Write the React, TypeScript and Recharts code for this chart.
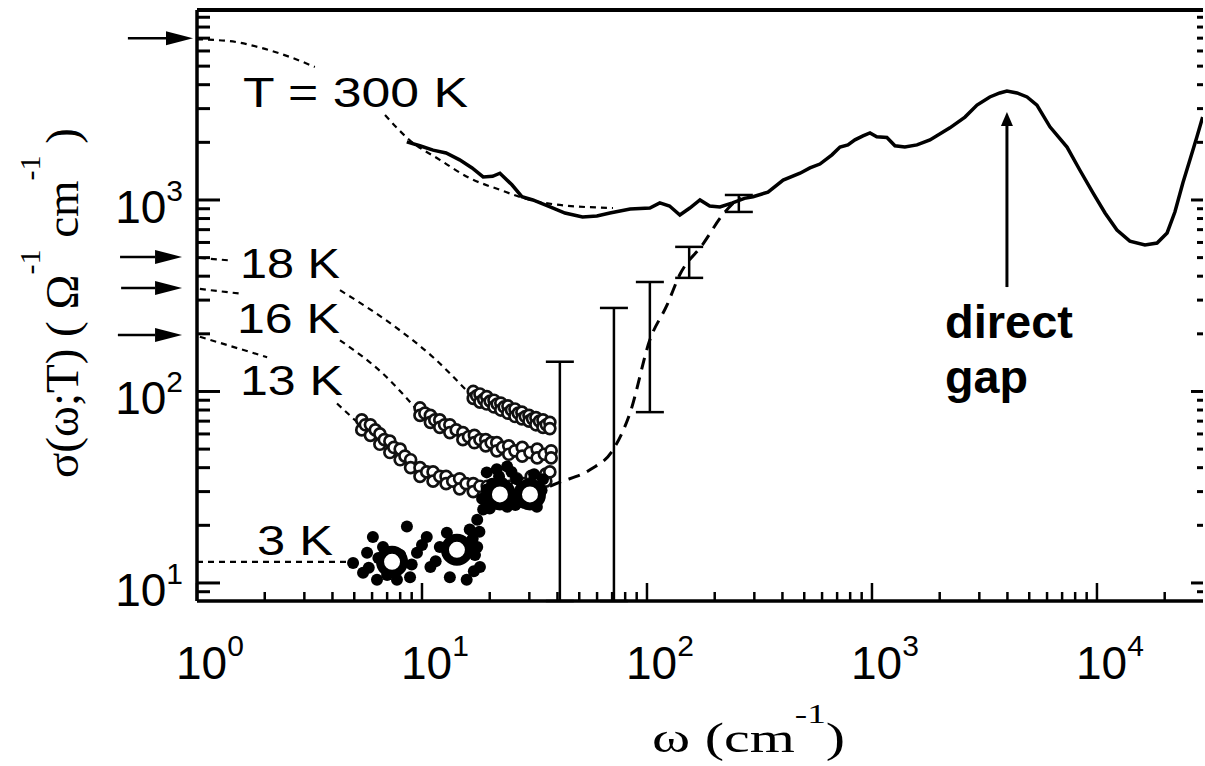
import React from 'react';
import {
  ComposedChart, Line, Scatter, XAxis, YAxis, ErrorBar, ReferenceLine, Customized,
} from 'recharts';

const SANS = '"Liberation Sans", Arial, Helvetica, sans-serif';
const SERIF = '"Liberation Serif", "Times New Roman", serif';

const X_DOMAIN: [number, number] = [1, 29600];
const Y_DOMAIN: [number, number] = [8.05, 9820];

// tick labels (decades) and minor factors
const xDecades = [1, 10, 100, 1000, 10000];
const yDecades = [1, 10, 100, 1000];
const minorFactors = [1, 2, 3, 4, 5, 6, 7, 8, 9];

// T = 300 K measured conductivity (solid line)
const w300 = [8.56, 9.78, 11.2, 12.8, 14.7, 16.7, 18.7, 20.6, 22.2, 25.1, 27.8, 31.1, 37.1, 43.2, 51.7, 59.9, 68.4, 84.2, 103, 114, 126, 140, 155, 172, 190, 211, 240, 271, 296, 345, 403, 479, 530, 587, 664, 721, 782, 840, 912, 980, 1050, 1165, 1265, 1400, 1585, 1810, 2220, 2590, 2930, 3340, 3700, 3980, 4410, 4890, 5410, 6180, 7360, 8400, 9600, 10860, 12270, 14000, 16340, 18500, 20500, 22200, 24100, 25900, 27800, 29500];
const s300 = [2010, 1920, 1820, 1760, 1620, 1470, 1320, 1330, 1380, 1200, 1040, 1000, 920, 855, 815, 825, 855, 897, 908, 965, 930, 835, 908, 1000, 930, 920, 965, 1020, 1040, 1100, 1270, 1380, 1470, 1540, 1720, 1890, 1940, 2060, 2160, 2240, 2140, 2120, 1920, 1890, 1940, 2060, 2380, 2710, 3130, 3450, 3620, 3710, 3620, 3450, 3130, 2410, 1890, 1430, 1090, 855, 697, 610, 582, 596, 673, 865, 1230, 1620, 2130, 2710];

// dashed extrapolations (null = hidden behind the label)
const w300d = [1, 1.4, 1.91, 2.59, 3.34, 4.5, 6.85, 8.83, 12.0, 16.3, 22.2, 30.2, 41, 70.6];
const s300d = [6900, 6750, 6250, 5580, 4950, null, 2780, 2050, 1620, 1300, 1130, 1000, 942, 908];
const w18d = [1.03, 1.44, 2.5, 4.32, 8, 11.2, 15.8];
const s18d = [498, 482, null, 338, 208, 151, 101];
const w16d = [1.03, 1.6, 2.5, 4.32, 6.7, 9.8];
const s16d = [343, 323, null, 185, 124, 77];
const w13d = [1.03, 2.05, 3, 4.19, 5.47];
const s13d = [193, 151, null, 86.5, 64.8];
const w3d = [1, 4.9];
const s3d = [12.9, 12.9];

// long-dashed rise of the 3 K curve towards 300 K
const wRise = [37, 41, 55.8, 70.6, 84, 103, 123, 140, 177, 218, 259];
const sRise = [32, 33.6, 39, 49.5, 77, 186, 284, 408, 587, 843, 1040];

// open-circle data
const w18 = [16.9, 16.9, 17.5, 18.1, 18.1, 18.8, 19.4, 19.4, 20.1, 20.9, 20.9, 21.6, 22.4, 22.4, 23.2, 24.1, 24.1, 25.0, 25.9, 25.9, 26.8, 27.8, 27.8, 28.8, 29.9, 29.9, 31.0, 32.1, 32.1, 33.3, 34.5, 34.5, 35.7, 37.0, 37.0];
const s18 = [100, 92, 95, 97, 88, 91, 94, 86, 89, 90, 83, 86, 87, 80, 83, 84, 77, 80, 81, 74, 77, 78, 72, 74, 75, 70, 72, 73, 67, 70, 71, 65, 67, 69, 64];
const w16 = [9.8, 9.8, 10.3, 10.9, 10.9, 11.4, 12.0, 12.0, 12.6, 13.3, 13.3, 14.2, 15.2, 15.2, 16.1, 17.1, 17.1, 18.1, 19.2, 19.2, 20.3, 21.5, 21.5, 22.8, 24.3, 24.3, 25.9, 27.9, 27.9, 30.2, 32.5, 32.5, 35.0, 37.5, 37.5];
const s16 = [82, 75, 77, 75, 69, 71, 71, 65, 67, 67, 61, 63, 61, 56, 58, 59, 54, 56, 56, 52, 54, 54, 49, 51, 52, 47, 49, 51, 46, 48, 50, 45, 47, 49, 45];
const w13a = [5.4, 5.4, 5.6, 5.9, 5.9, 6.2, 6.5, 6.5, 6.8, 7.2, 7.2, 7.5, 8.0, 8.0, 8.4, 8.9, 8.9];
const s13a = [71, 63, 67, 67, 59, 63, 60, 53, 56, 55, 48, 51, 50, 44, 46, 44, 40];
const w13b = [9.8, 9.8, 10.5, 11.2, 11.2, 12.0, 12.8, 12.8, 13.7, 14.7, 14.7, 15.7, 16.9, 16.9, 18.1, 19.5, 19.5, 21.0, 22.6, 22.6, 24.4, 26.3, 26.3, 28.4, 30.6, 30.6, 33.0, 35.5, 35.5, 37.0];
const s13b = [40, 36, 38, 38, 34, 36, 36, 33, 34, 35, 31, 33, 33, 30, 32, 32, 29, 31, 33, 30, 32, 35, 32, 33, 36, 33, 35, 37, 34, 38];

// 3 K filled data and averaged points
const w3 = [4.94, 5.47, 5.7, 6.05, 6.31, 6.71, 7.74, 8.57, 8.85, 9.5, 10.5, 10.9, 12.0, 12.9, 13.3, 15.8, 16.3, 17.6, 18.1, 17.6, 18.7, 19.4, 19.4, 21.5, 23.9, 26.4, 28.1, 32.4, 34.5, 19.4, 23.9, 5.8, 7.0, 8.0, 9.0, 11.5, 13.8, 15.0, 16.8, 17.0, 20.5, 22.0, 25.0, 27.5, 30.0, 33.5, 31.5, 18.5, 20.0, 6.4, 10.0, 17.2, 18.0, 26.0, 34.0];
const s3 = [12.7, 11.3, 14.4, 17.4, 10.4, 15.4, 10.4, 19.7, 10.7, 14.4, 17.4, 12.1, 15.4, 18.3, 10.7, 10.4, 19.0, 15.4, 12.1, 21.4, 24.2, 30.8, 37.8, 39.2, 40.6, 34.8, 26.3, 25.0, 34.8, 26.3, 25.0, 12.0, 11.0, 14.0, 12.5, 13.0, 16.5, 13.5, 17.0, 11.5, 33.0, 36.0, 38.0, 31.0, 27.5, 30.0, 37.0, 27.5, 24.5, 13.5, 15.8, 14.0, 18.5, 25.5, 30.5];
const wBig = [7.36, 14.3, 22.2, 30.2];
const sBig = [12.9, 14.9, 29, 29];

// error bars
const wErr = [41, 71.3, 103, 154, 256];
const loErr = [8.05, 8.05, 78, 392, 866];
const hiErr = [143, 273, 373, 569, 1062];

// dc-conductivity arrows at the left
const arrowLevel = [7000, 504, 347, 197];
const arrowFrom = [0.493, 0.455, 0.46, 0.445];
const arrowTo = [0.96, 0.858, 0.858, 0.858];

// direct gap arrow
const gapW = 3980;
const gapFrom = 351;
const gapTo = 2880;

const zip = (w: number[], s: (number | null)[]) => w.map((x, i) => ({ w: x, s: s[i] }));

const xTicks = xDecades.flatMap((d) => minorFactors.map((f) => d * f)).filter((v) => v >= X_DOMAIN[0] && v <= X_DOMAIN[1]);
const yTicks = yDecades.flatMap((d) => minorFactors.map((f) => d * f)).filter((v) => v >= Y_DOMAIN[0] && v <= Y_DOMAIN[1]);

const errData = wErr.map((w, i) => {
  const c = Math.sqrt(loErr[i] * hiErr[i]);
  return { w, s: c, err: [c - loErr[i], hiErr[i] - c] };
});

const isMajor = (v: number) => Math.abs(Math.log10(v) - Math.round(Math.log10(v))) < 1e-6;

const LeftTick = ({ x, y, payload }: any) => {
  const major = isMajor(payload.value);
  return (
    <g>
      <line x1={x} y1={y} x2={x + (major ? 23 : 13)} y2={y} stroke="#000" strokeWidth={3} />
      {major && (
        <text x={x - 14} y={y + 23} textAnchor="end" fontFamily={SANS} fontSize={46} fill="#000">
          10<tspan dy={-22} fontSize={30}>{Math.round(Math.log10(payload.value))}</tspan>
        </text>
      )}
    </g>
  );
};

const RightTick = ({ x, y, payload }: any) => {
  const major = isMajor(payload.value);
  return <line x1={x} y1={y} x2={x - (major ? 12 : 6)} y2={y} stroke="#000" strokeWidth={3} />;
};

const BottomTick = ({ x, y, payload }: any) => {
  const major = isMajor(payload.value);
  return (
    <g>
      <line x1={x} y1={y} x2={x} y2={y - (major ? 18 : 9)} stroke="#000" strokeWidth={2.5} />
      {major && (
        <text x={x - 21} y={y + 78} textAnchor="start" fontFamily={SANS} fontSize={46} fill="#000">
          10<tspan dy={-23} fontSize={30}>{Math.round(Math.log10(payload.value))}</tspan>
        </text>
      )}
    </g>
  );
};

const makeArrow = (head: number, half: number, width: number) => (p: any) => {
  const { x1, y1, x2, y2 } = p;
  const dx = x2 - x1;
  const dy = y2 - y1;
  const len = Math.hypot(dx, dy) || 1;
  const ux = dx / len;
  const uy = dy / len;
  const bx = x2 - ux * head;
  const by = y2 - uy * head;
  return (
    <g>
      <line x1={x1} y1={y1} x2={bx} y2={by} stroke="#000" strokeWidth={width} />
      <polygon
        points={`${x2},${y2} ${bx - uy * half},${by + ux * half} ${bx + uy * half},${by - ux * half}`}
        fill="#000"
      />
    </g>
  );
};

const dcArrow = makeArrow(27, 7, 2.5);
const gapArrow = makeArrow(14, 6, 3);

const OpenCircle = (p: any) => (
  <circle cx={p.cx} cy={p.cy} r={5.5} fill="#fff" stroke="#111" strokeWidth={2.7} />
);
const FilledDot = (p: any) => <circle cx={p.cx} cy={p.cy} r={6} fill="#000" />;
const BigCircle = (p: any) => (
  <circle cx={p.cx} cy={p.cy} r={12} fill="#fff" stroke="#000" strokeWidth={8} />
);
const NoShape = () => <g />;

const Annotations = () => (
  <g fill="#000">
    <g fontFamily={SANS}>
      <text x={243} y={107} fontSize={42} textLength={225} lengthAdjust="spacingAndGlyphs">T = 300 K</text>
      <text x={240} y={278} fontSize={42} textLength={100} lengthAdjust="spacingAndGlyphs">18 K</text>
      <text x={237} y={333} fontSize={42} textLength={103} lengthAdjust="spacingAndGlyphs">16 K</text>
      <text x={240} y={395} fontSize={42} textLength={103} lengthAdjust="spacingAndGlyphs">13 K</text>
      <text x={257} y={555} fontSize={42} textLength={76} lengthAdjust="spacingAndGlyphs">3 K</text>
      <text x={945} y={338} fontSize={46} fontWeight="bold" textLength={128} lengthAdjust="spacingAndGlyphs">direct</text>
      <text x={945} y={393} fontSize={46} fontWeight="bold" textLength={83} lengthAdjust="spacingAndGlyphs">gap</text>
    </g>
    <g transform="translate(652,752) scale(1.38,1)">
      <text x={0} y={0} fontFamily={SERIF} fontSize={42}>
        ω (cm<tspan dy={-29} fontSize={27}>-1</tspan><tspan dy={29}>)</tspan>
      </text>
    </g>
    <g transform="translate(78,478) rotate(-90)">
      <text x={0} y={0} fontFamily={SERIF} fontSize={47}>
        σ(ω;T) ( Ω<tspan dy={-38} fontSize={30}>-1</tspan><tspan dy={38}> cm</tspan>
        <tspan dy={-38} fontSize={30}>-1</tspan><tspan dy={38}> )</tspan>
      </text>
    </g>
  </g>
);

const axisLine = { stroke: '#000', strokeWidth: 3.5 };

export default function App() {
  return (
    <div style={{ position: 'absolute', left: 0, top: 0, background: '#fff' }}>
      <ComposedChart width={1205} height={766} margin={{ top: 0, right: 0, bottom: 0, left: 0 }}>
        <XAxis
          xAxisId="top" orientation="top" type="number" scale="log" domain={X_DOMAIN} allowDataOverflow
          height={10} tick={false} tickLine={false} axisLine={{ stroke: '#000', strokeWidth: 4 }}
        />
        <XAxis
          dataKey="w" type="number" scale="log" domain={X_DOMAIN} allowDataOverflow
          ticks={xTicks} interval={0} tickSize={0} tickMargin={0} tickLine={false}
          tick={BottomTick} height={165} axisLine={axisLine}
        />
        <YAxis
          dataKey="s" type="number" scale="log" domain={Y_DOMAIN} allowDataOverflow
          ticks={yTicks} interval={0} tickSize={0} tickMargin={0} tickLine={false}
          tick={LeftTick} width={197} axisLine={axisLine}
        />
        <YAxis
          yAxisId="r" orientation="right" type="number" scale="log" domain={Y_DOMAIN} allowDataOverflow
          ticks={yTicks} interval={0} tickSize={0} tickMargin={0} tickLine={false}
          tick={RightTick} width={2} axisLine={false}
        />

        <Line data={zip(w300d, s300d)} dataKey="s" type="monotone" stroke="#000" strokeWidth={2.2} strokeDasharray="6 5" dot={false} isAnimationActive={false} />
        <Line data={zip(w18d, s18d)} dataKey="s" type="monotone" stroke="#000" strokeWidth={2.2} strokeDasharray="6 5" dot={false} isAnimationActive={false} />
        <Line data={zip(w16d, s16d)} dataKey="s" type="monotone" stroke="#000" strokeWidth={2.2} strokeDasharray="6 5" dot={false} isAnimationActive={false} />
        <Line data={zip(w13d, s13d)} dataKey="s" type="monotone" stroke="#000" strokeWidth={2.2} strokeDasharray="6 5" dot={false} isAnimationActive={false} />
        <Line data={zip(w3d, s3d)} dataKey="s" type="linear" stroke="#000" strokeWidth={2.2} strokeDasharray="6 5" dot={false} isAnimationActive={false} />
        <Line data={zip(wRise, sRise)} dataKey="s" type="monotone" stroke="#000" strokeWidth={3} strokeDasharray="12 8" dot={false} isAnimationActive={false} />
        <Line data={zip(w300, s300)} dataKey="s" type="linear" stroke="#000" strokeWidth={3.5} dot={false} isAnimationActive={false} />

        <Scatter data={zip(w18, s18)} dataKey="s" shape={OpenCircle} isAnimationActive={false} />
        <Scatter data={zip(w16, s16)} dataKey="s" shape={OpenCircle} isAnimationActive={false} />
        <Scatter data={zip(w13a, s13a)} dataKey="s" shape={OpenCircle} isAnimationActive={false} />
        <Scatter data={zip(w13b, s13b)} dataKey="s" shape={OpenCircle} isAnimationActive={false} />
        <Scatter data={zip(w3, s3)} dataKey="s" shape={FilledDot} isAnimationActive={false} />
        <Scatter data={zip(wBig, sBig)} dataKey="s" shape={BigCircle} isAnimationActive={false} />

        <Scatter data={errData} dataKey="s" shape={NoShape} isAnimationActive={false}>
          <ErrorBar dataKey="err" direction="y" width={14} stroke="#000" strokeWidth={2.5} isAnimationActive={false} />
        </Scatter>

        {arrowLevel.map((v, i) => (
          <ReferenceLine
            key={`dc-${i}`}
            segment={[{ x: arrowFrom[i], y: v }, { x: arrowTo[i], y: v }]}
            ifOverflow="visible"
            shape={dcArrow}
          />
        ))}
        <ReferenceLine
          segment={[{ x: gapW, y: gapFrom }, { x: gapW, y: gapTo }]}
          ifOverflow="visible"
          shape={gapArrow}
        />

        <Customized component={Annotations} />
      </ComposedChart>
    </div>
  );
}
